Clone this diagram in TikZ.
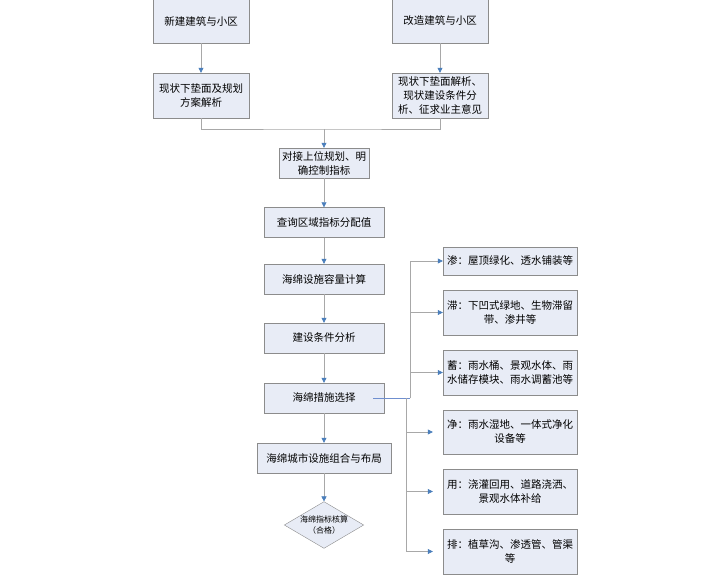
\documentclass[tikz,border=0pt]{standalone}
\usepackage{fontspec}
\setmainfont{Noto Sans CJK SC}
\usetikzlibrary{shapes.geometric}
\usetikzlibrary{arrows.meta}
\definecolor{boxfill}{HTML}{E8ECF6}
\definecolor{boxline}{HTML}{8C8C8C}
\definecolor{linkgray}{HTML}{A8A8A8}
\definecolor{tipblue}{HTML}{4A7EBB}
\definecolor{linkblue}{HTML}{6F8FCF}

\begin{document}
\begin{tikzpicture}[x=1pt, y=-1pt,
    box/.style={draw=boxline, fill=boxfill, rectangle, align=center, inner sep=2pt,
                font=\fontsize{10.5}{14}\selectfont},
    check/.style={draw=boxline, fill=boxfill, diamond, aspect=1.7, inner sep=0pt,
                minimum width=75pt, minimum height=44pt, align=center,
                font=\fontsize{8}{11}\selectfont},
    link/.style={draw=linkgray, line width=0.6pt},
    arr/.style={link, -{Triangle[width=5pt,length=5pt,color=tipblue]}}]
\useasboundingbox (0,0) rectangle (716,576);

% source boxes
\node[box, minimum width=96pt, minimum height=44pt] (new) at (201,21) {新建建筑与小区};
\node[box, minimum width=96pt, minimum height=44pt] (reno) at (440,21) {改造建筑与小区};
\node[box, minimum width=96pt, minimum height=45pt] (newana) at (201,95.5) {现状下垫面及规划\\方案解析};
\node[box, minimum width=96pt, minimum height=45pt] (renoana) at (440,95.5) {现状下垫面解析、\\现状建设条件分\\析、征求业主意见};

% main column
\node[box, minimum width=90pt, minimum height=30pt] (dock) at (324,163) {对接上位规划、明\\确控制指标};
\node[box, minimum width=120pt, minimum height=30pt] (query) at (324,222.5) {查询区域指标分配值};
\node[box, minimum width=120pt, minimum height=30pt] (capacity) at (324,279) {海绵设施容量计算};
\node[box, minimum width=120pt, minimum height=30pt] (cond) at (324,338) {建设条件分析};
\node[box, minimum width=120pt, minimum height=30pt] (select) at (324,398) {海绵措施选择};
\node[box, minimum width=134pt, minimum height=30pt] (layout) at (324,458) {海绵城市设施组合与布局};
\node[check] (verify) at (324,525) {海绵指标核算\\（合格）};

% measures
\node[box, minimum width=134pt, minimum height=28pt] (shen) at (510,261) {渗：屋顶绿化、透水铺装等};
\node[box, minimum width=134pt, minimum height=45pt] (zhi) at (510,312.5) {滞：下凹式绿地、生物滞留\\带、渗井等};
\node[box, minimum width=134pt, minimum height=45pt] (xu) at (510,372.5) {蓄：雨水桶、景观水体、雨\\水储存模块、雨水调蓄池等};
\node[box, minimum width=134pt, minimum height=44pt] (jing) at (510,432) {净：雨水湿地、一体式净化\\设备等};
\node[box, minimum width=134pt, minimum height=45pt] (yong) at (510,491.5) {用：浇灌回用、道路浇洒、\\景观水体补给};
\node[box, minimum width=134pt, minimum height=45pt] (pai) at (510,551.5) {排：植草沟、渗透管、管渠\\等};

% connectors
\coordinate (merge) at (324,129);
\coordinate (forkup) at (410,398);
\coordinate (forkdown) at (406,398);

\draw[arr] (new) -- (newana);
\draw[arr] (reno) -- (renoana);
\draw[link] (newana.south) |- (merge) -| (renoana.south);
\draw[arr] (merge) -- (dock);
\draw[arr] (dock) -- (query);
\draw[arr] (query) -- (capacity);
\draw[arr] (capacity) -- (cond);
\draw[arr] (cond) -- (select);
\draw[arr] (select) -- (layout);
\draw[arr] (layout) -- (verify);

\draw[draw=linkblue, line width=0.6pt] ([xshift=-11pt]select.east) -- (forkup);
\draw[arr] (forkup) |- (shen.west);
\draw[arr] (forkup) |- (zhi.west);
\draw[arr] (forkup) |- (xu.west);
\draw[arr, shorten >=10pt] (forkdown) |- (jing.west);
\draw[arr, shorten >=10pt] (forkdown) |- (yong.west);
\draw[arr, shorten >=10pt] (forkdown) |- (pai.west);
\end{tikzpicture}
\end{document}
